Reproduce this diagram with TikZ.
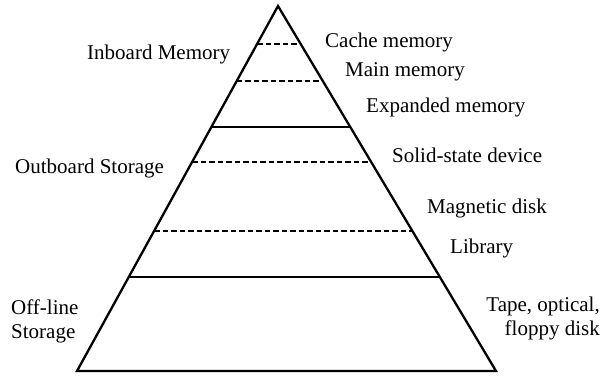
\documentclass[tikz,border=0pt]{standalone}
\usepackage{fontspec}
\setmainfont{Liberation Serif}
\usepackage{tikz}
\usetikzlibrary{calc}

\begin{document}
\begin{tikzpicture}[x=1pt, y=-1pt]
    % Styles
    \tikzstyle{label} = [inner sep=0pt, font=\fontsize{21}{24}\selectfont]
    \tikzstyle{edge} = [line width=2.3pt, line join=miter]
    \tikzstyle{level} = [line width=2pt, dash pattern=on 5.5pt off 3pt]

    \useasboundingbox (0,0) rectangle (601,376);

    % Pyramid
    \coordinate (apex) at (278,6);
    \coordinate (bl) at (77,371);
    \coordinate (br) at (496,371);
    \draw[edge] (apex) -- (bl) -- (br) -- cycle;

    % Levels
    \foreach \y in {44, 81, 162, 231}
        \draw[level] ($(apex)!{(\y-6)/365}!(bl)$) -- ($(apex)!{(\y-6)/365}!(br)$);
    \foreach \y in {127, 277}
        \draw[edge] ($(apex)!{(\y-6)/365}!(bl)$) -- ($(apex)!{(\y-6)/365}!(br)$);

    % Left labels
    \node[label, anchor=west] (inboard) at (87,54) {Inboard Memory};
    \node[label, anchor=west] (outboard) at (15,168) {Outboard Storage};
    \node[label, anchor=west, align=left] (offline) at (11,321) {Off-line\\Storage};

    % Right labels
    \node[label, anchor=west] (cache) at (325,42) {Cache memory};
    \node[label, anchor=west] (main) at (345,72) {Main memory};
    \node[label, anchor=west] (expanded) at (366,107) {Expanded memory};
    \node[label, anchor=west] (ssd) at (392,155) {Solid-state device};
    \node[label, anchor=west] (magnetic) at (427,208) {Magnetic disk};
    \node[label, anchor=west] (library) at (450,248) {Library};
    \node[label, anchor=east, align=right] (tape) at (600,318) {Tape, optical,\\floppy disk};
\end{tikzpicture}
\end{document}
